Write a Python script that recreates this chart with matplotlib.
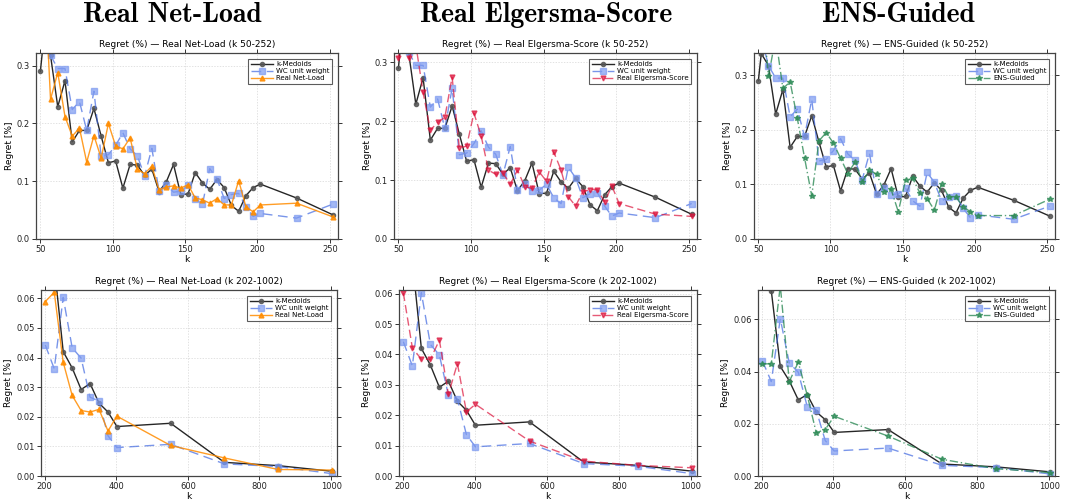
import numpy as np
import matplotlib
matplotlib.use("Agg")
import matplotlib.pyplot as plt

# k grid (top panels: 50-252, bottom panels: 202-1002)
k_vals = [50, 52, 57, 62, 67, 72, 77, 82, 87, 92, 97, 102, 107, 112, 117, 122, 127,
          132, 137, 142, 147, 152, 157, 162, 167, 172, 177, 182, 187, 192, 197, 202,
          227, 252, 277, 302, 327, 352, 377, 402, 552, 702, 852, 1002]

kmedoids = [0.290, 0.340, 0.318, 0.229, 0.274, 0.168, 0.188, 0.188, 0.226, 0.178, 0.132, 0.135,
            0.088, 0.129, 0.128, 0.110, 0.121, 0.082, 0.099, 0.129, 0.077, 0.078, 0.115, 0.097,
            0.086, 0.103, 0.089, 0.058, 0.048, 0.075, 0.089, 0.095,
            0.071, 0.042, 0.0365, 0.0292, 0.0312, 0.0246, 0.0216, 0.0167, 0.0178, 0.0046, 0.0035, 0.0016]

wc_unit = [np.nan, 0.370, 0.318, 0.295, 0.295, 0.224, 0.238, 0.188, 0.256, 0.143, 0.146, 0.162,
           0.184, 0.156, 0.144, 0.109, 0.157, 0.083, 0.094, 0.081, 0.083, 0.093, 0.070, 0.060,
           0.122, 0.104, 0.070, 0.077, 0.079, 0.056, 0.039, 0.0442,
           0.0362, 0.0603, 0.0433, 0.0398, 0.0266, 0.0253, 0.0136, 0.0096, 0.0107, 0.0041, 0.0032, 0.0008]

net_load = [np.nan, 0.500, 0.242, 0.288, 0.212, 0.178, 0.192, 0.133, 0.179, 0.140, 0.200, 0.161,
            0.156, 0.175, 0.121, 0.113, 0.126, 0.085, 0.090, 0.092, 0.088, 0.094, 0.071, 0.068,
            0.062, 0.070, 0.059, 0.059, 0.101, 0.056, 0.047, 0.0589,
            0.062, 0.0384, 0.0272, 0.0221, 0.0216, 0.0225, 0.0152, 0.0202, 0.0103, 0.0061, 0.0022, 0.0020]

elgersma = [0.307, 0.360, 0.307, 0.330, 0.249, 0.185, 0.198, 0.207, 0.275, 0.154, 0.158, 0.214,
            0.175, 0.117, 0.110, 0.112, 0.093, 0.117, 0.089, 0.086, 0.114, 0.098, 0.148, 0.117,
            0.072, 0.056, 0.080, 0.084, 0.084, 0.063, 0.090, 0.0603,
            0.0422, 0.0384, 0.0384, 0.0447, 0.0269, 0.0370, 0.0211, 0.0236, 0.0115, 0.0049, 0.0035, 0.0027]

ens_guided = [np.nan, 0.440, 0.298, 0.370, 0.276, 0.288, 0.221, 0.149, 0.079, 0.180, 0.195, 0.176,
              0.148, 0.120, 0.141, 0.105, 0.126, 0.119, 0.087, 0.091, 0.050, 0.108, 0.111, 0.084,
              0.074, 0.053, 0.101, 0.077, 0.077, 0.059, 0.050, 0.0430,
              0.0430, 0.0730, 0.0362, 0.0436, 0.0310, 0.0166, 0.0178, 0.0229, 0.0153, 0.0064, 0.0028, 0.0013]

methods = ["Real Net-Load", "Real Elgersma-Score", "ENS-Guided"]
method_vals = [net_load, elgersma, ens_guided]
k_ranges = [(50, 252), (202, 1002)]
ylim_top = [[0.322, 0.316, 0.341], [0.0628, 0.0612, 0.0713]]

# style per method
method_style = [
    dict(color="#FF8C00", ls="-", marker="^", ms=3.5, alpha=0.85),
    dict(color="#DC143C", ls=(0, (6, 3)), marker="v", ms=3.5, alpha=0.7),
    dict(color="#2E8B57", ls=(0, (6, 2, 1, 2)), marker="*", ms=4, alpha=0.8),
]

# axes boxes in pixels: x0, x1, ytop, ybot
boxes = [
    [(36, 338, 53, 239), (394, 697, 53, 239), (754, 1055, 53, 239)],
    [(41, 337, 290, 476), (399, 697, 290, 476), (758, 1055, 290, 476)],
]

W, H = 1067, 499
fig = plt.figure(figsize=(W / 100, H / 100), dpi=100)

k_arr = np.array(k_vals)
for row in range(2):
    lo, hi = k_ranges[row]
    sel = (k_arr >= lo) & (k_arr <= hi)
    for col in range(3):
        x0, x1, yt, yb = boxes[row][col]
        ax = fig.add_axes([x0 / W, (H - yb) / H, (x1 - x0) / W, (yb - yt) / H])
        kk = k_arr[sel]

        ax.plot(kk, np.array(kmedoids)[sel], color="black", ls="-", lw=1.0,
                marker="o", ms=3, mfc="#555555", mec="#555555", alpha=0.85, label="k-Medoids")
        ax.plot(kk, np.array(wc_unit)[sel], color="#4169E1", ls=(0, (7, 4)), lw=1.0,
                marker="s", ms=4.5, mfc="#7d9af0", mec="#7d9af0", alpha=0.7, label="WC unit weight")
        st = method_style[col]
        ax.plot(kk, np.array(method_vals[col])[sel], color=st["color"], ls=st["ls"], lw=1.0,
                marker=st["marker"], ms=st["ms"], alpha=st["alpha"], label=methods[col])

        span = hi - lo
        ax.set_xlim(lo - 0.015 * span, hi + 0.018 * span)
        ax.set_ylim(0, ylim_top[row][col])
        if row == 0:
            ax.set_xticks([50, 100, 150, 200, 250])
            ax.set_yticks([0.0, 0.1, 0.2, 0.3])
            ax.yaxis.set_major_formatter(matplotlib.ticker.FormatStrFormatter("%.1f"))
        else:
            ax.set_xticks([200, 400, 600, 800, 1000])
            if col == 2:
                ax.set_yticks([0.0, 0.02, 0.04, 0.06])
            else:
                ax.set_yticks([0.0, 0.01, 0.02, 0.03, 0.04, 0.05, 0.06])
            ax.yaxis.set_major_formatter(matplotlib.ticker.FormatStrFormatter("%.2f"))

        ax.set_title(f"Regret (%) \u2014 {methods[col]} (k {lo}-{hi})", fontsize=6.5, pad=4)
        ax.set_xlabel("k", fontsize=6.5, labelpad=0.5)
        ax.set_ylabel("Regret [%]", fontsize=6.5, labelpad=2)
        ax.tick_params(labelsize=6, direction="out", length=3, width=0.7,
                       top=True, right=True, pad=1.5, colors="#333333", labelcolor="#222222")
        ax.grid(True, ls=(0, (2, 2)), lw=0.5, color="#cccccc", alpha=0.8)
        for sp in ax.spines.values():
            sp.set_color("#444444")
            sp.set_linewidth(0.9)

        leg = ax.legend(loc="upper right", fontsize=5, frameon=True, fancybox=False,
                        handlelength=3.2, borderpad=0.4, labelspacing=0.15,
                        handletextpad=0.4, borderaxespad=0.8)
        leg.get_frame().set_edgecolor("#333333")
        leg.get_frame().set_linewidth(0.8)

# column titles (bold serif)
col_x = [172, 546, 898]
for col in range(3):
    fig.text(col_x[col] / W, 1 - 15 / H, methods[col], fontsize=20, family="cmb10",
             ha="center", va="center")

fig.savefig("out.png", dpi=100)
